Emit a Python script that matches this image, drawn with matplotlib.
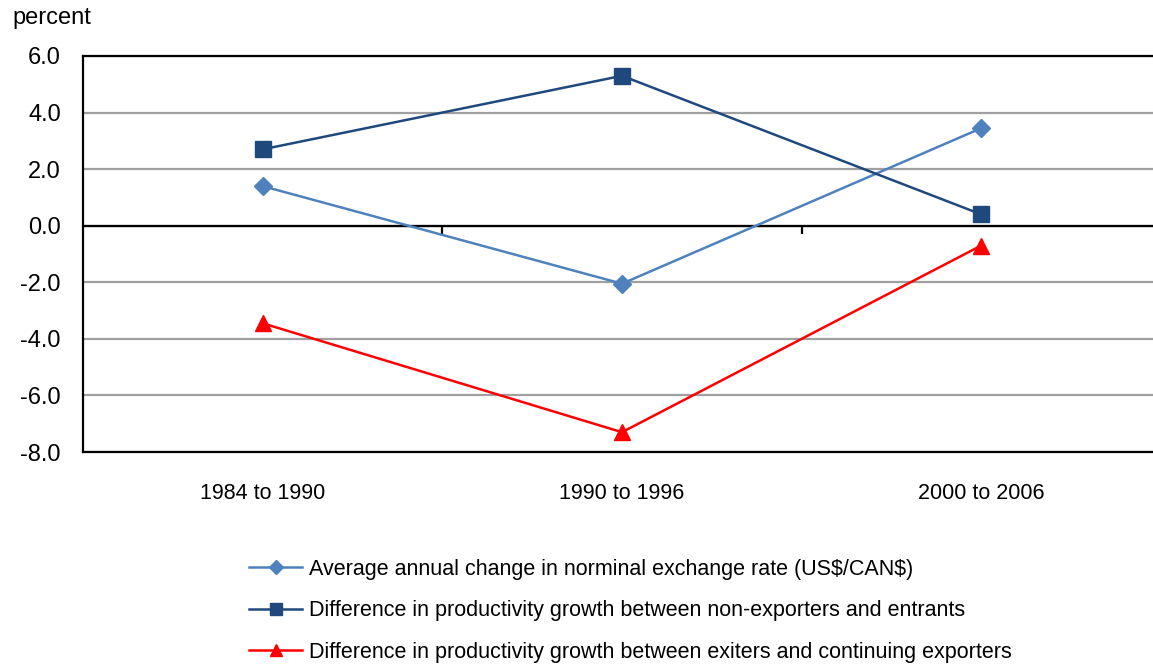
import matplotlib
matplotlib.use("Agg")
import matplotlib.pyplot as plt

plt.rcParams['font.family'] = ['Liberation Sans', 'DejaVu Sans']
plt.rcParams['text.parse_math'] = False

categories = ["1984 to 1990", "1990 to 1996", "2000 to 2006"]
exchange_rate = [1.4, -2.05, 3.45]
nonexp_entrants = [2.7, 5.3, 0.4]
exiters_continuing = [-3.45, -7.3, -0.7]
series_labels = [
    "Average annual change in norminal exchange rate (US$/CAN$)",
    "Difference in productivity growth between non-exporters and entrants",
    "Difference in productivity growth between exiters and continuing exporters",
]
yticks = [6.0, 4.0, 2.0, 0.0, -2.0, -4.0, -6.0, -8.0]

W, H = 1153, 666
fig = plt.figure(figsize=(W / 100, H / 100), dpi=100)
ax = fig.add_axes([83 / W, 1 - 452 / H, (1161 - 83) / W, (452 - 56) / H])

x = list(range(len(categories)))
fs = 15.5
fs_y = 17
ax.plot(x, exchange_rate, color="#4F81BD", lw=1.8, marker="D", ms=9,
        label=series_labels[0], zorder=3)
ax.plot(x, nonexp_entrants, color="#1F497D", lw=1.8, marker="s", ms=11,
        label=series_labels[1], zorder=3)
ax.plot(x, exiters_continuing, color="#FF0000", lw=1.8, marker="^", ms=11,
        label=series_labels[2], zorder=3)

ax.set_xlim(-0.5, len(categories) - 0.5)
ax.set_ylim(-8, 6)
ax.set_yticks(yticks)
ax.set_yticklabels([f"{v:.1f}" for v in yticks], fontsize=fs_y)
ax.tick_params(axis="y", length=0, pad=16)
ax.set_xticks(x)
ax.set_xticklabels(categories, fontsize=fs)
ax.tick_params(axis="x", length=0, pad=22)

ax.yaxis.grid(True, color="#A0A0A0", lw=1.6)
ax.set_axisbelow(True)
ax.axhline(0, color="black", lw=1.6, zorder=2)
for s in ["left", "top", "bottom"]:
    ax.spines[s].set_linewidth(1.6)
    ax.spines[s].set_color("black")
ax.spines["right"].set_visible(False)

sec = ax.secondary_xaxis(8 / 14)
sec.spines["bottom"].set_visible(False)
sec.set_xticks([0.5, 1.5])
sec.set_xticklabels([])
sec.tick_params(direction="in", length=6, width=1.6, color="black")

fig.text(12 / W, 1 - 18 / H, "percent", fontsize=fs_y, va="center", ha="left")

leg = fig.legend(loc="upper left", bbox_to_anchor=(240 / W, 1 - 550 / H),
                 frameon=False, fontsize=fs, handlelength=2.5, markerscale=0.8,
                 labelspacing=0.95, handletextpad=0.3, borderaxespad=0)

fig.savefig("out.png", dpi=100)
